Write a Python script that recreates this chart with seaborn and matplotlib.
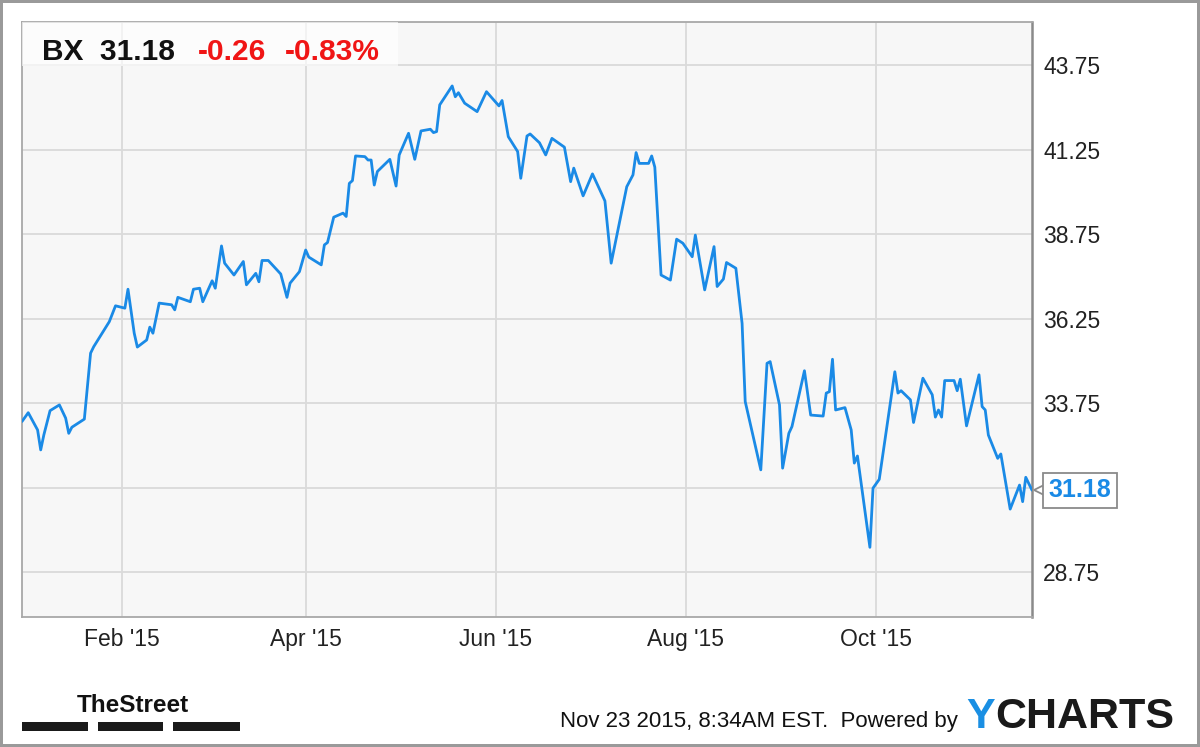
import pandas as pd
import matplotlib
matplotlib.use("Agg")
import matplotlib.pyplot as plt
import matplotlib.transforms as mtransforms
from matplotlib.patches import Rectangle
import seaborn as sns


# ==========================================
# DATA
# ==========================================

trade_dates = [
    "2014-12-31", "2015-01-02", "2015-01-05", "2015-01-06", "2015-01-07",
    "2015-01-09", "2015-01-12", "2015-01-14", "2015-01-15", "2015-01-16",
    "2015-01-20", "2015-01-22", "2015-01-23", "2015-01-28", "2015-01-30",
    "2015-02-02", "2015-02-03", "2015-02-05", "2015-02-06", "2015-02-09",
    "2015-02-10", "2015-02-11", "2015-02-13", "2015-02-17", "2015-02-18",
    "2015-02-19", "2015-02-23", "2015-02-24", "2015-02-26", "2015-02-27",
    "2015-03-02", "2015-03-03", "2015-03-05", "2015-03-06", "2015-03-09",
    "2015-03-12", "2015-03-13", "2015-03-16", "2015-03-17", "2015-03-18",
    "2015-03-20", "2015-03-24", "2015-03-26", "2015-03-27", "2015-03-30",
    "2015-04-01", "2015-04-02", "2015-04-06", "2015-04-07", "2015-04-08",
    "2015-04-10", "2015-04-13", "2015-04-14", "2015-04-15", "2015-04-16",
    "2015-04-17", "2015-04-20", "2015-04-21", "2015-04-22", "2015-04-23",
    "2015-04-24", "2015-04-28", "2015-04-30",
    "2015-05-01", "2015-05-04", "2015-05-06", "2015-05-08", "2015-05-11",
    "2015-05-12", "2015-05-13", "2015-05-14", "2015-05-18", "2015-05-19",
    "2015-05-20", "2015-05-22", "2015-05-26", "2015-05-29",
    "2015-06-02", "2015-06-03", "2015-06-05", "2015-06-08", "2015-06-09",
    "2015-06-11", "2015-06-12", "2015-06-15", "2015-06-17", "2015-06-19",
    "2015-06-23", "2015-06-25", "2015-06-26", "2015-06-29",
    "2015-07-02", "2015-07-06", "2015-07-08", "2015-07-13", "2015-07-15",
    "2015-07-16", "2015-07-17", "2015-07-20", "2015-07-21", "2015-07-22",
    "2015-07-24", "2015-07-27", "2015-07-29", "2015-07-31",
    "2015-08-03", "2015-08-04", "2015-08-07", "2015-08-10", "2015-08-11",
    "2015-08-13", "2015-08-14", "2015-08-17", "2015-08-19", "2015-08-20",
    "2015-08-25", "2015-08-27", "2015-08-28", "2015-08-31",
    "2015-09-01", "2015-09-03", "2015-09-04", "2015-09-08", "2015-09-10",
    "2015-09-14", "2015-09-15", "2015-09-16", "2015-09-17", "2015-09-18",
    "2015-09-21", "2015-09-23", "2015-09-24", "2015-09-25", "2015-09-29",
    "2015-09-30",
    "2015-10-02", "2015-10-05", "2015-10-07", "2015-10-08", "2015-10-09",
    "2015-10-12", "2015-10-13", "2015-10-16", "2015-10-19", "2015-10-20",
    "2015-10-21", "2015-10-22", "2015-10-23", "2015-10-26", "2015-10-27",
    "2015-10-28", "2015-10-30",
    "2015-11-03", "2015-11-04", "2015-11-05", "2015-11-06", "2015-11-09",
    "2015-11-10", "2015-11-13", "2015-11-16", "2015-11-17", "2015-11-18",
    "2015-11-20",
]

close_prices = [
    33.21, 33.47, 32.96, 32.37, 32.81,
    33.53, 33.70, 33.31, 32.86, 33.04,
    33.28, 35.23, 35.42, 36.16, 36.63,
    36.56, 37.12, 35.82, 35.41, 35.62,
    36.00, 35.82, 36.71, 36.66, 36.51,
    36.88, 36.75, 37.12, 37.15, 36.75,
    37.37, 37.15, 38.40, 37.89, 37.54,
    37.94, 37.25, 37.59, 37.34, 37.97,
    37.97, 37.57, 36.88, 37.30, 37.64,
    38.28, 38.07, 37.84, 38.43, 38.50,
    39.25, 39.37, 39.27, 40.25, 40.33,
    41.06, 41.04, 40.94, 40.94, 40.20,
    40.60, 40.96, 40.17,
    41.09, 41.73, 40.96, 41.80, 41.85,
    41.75, 41.78, 42.57, 43.13, 42.81,
    42.93, 42.62, 42.37, 42.96,
    42.54, 42.70, 41.63, 41.19, 40.40,
    41.65, 41.71, 41.45, 41.09, 41.58,
    41.32, 40.30, 40.70, 39.88,
    40.53, 39.73, 37.89, 40.15, 40.50,
    41.16, 40.84, 40.84, 41.06, 40.73,
    37.54, 37.39, 38.60, 38.48,
    38.08, 38.72, 37.10, 38.38, 37.20,
    37.42, 37.91, 37.74, 36.11, 33.80,
    31.78, 34.93, 34.98, 33.70,
    31.83, 32.86, 33.06, 34.71, 33.40,
    33.37, 34.05, 34.09, 35.05, 33.55,
    33.62, 32.96, 31.98, 32.19, 29.49,
    31.24,
    31.50, 33.40, 34.68, 34.05, 34.12,
    33.85, 33.18, 34.49, 34.00, 33.34,
    33.55, 33.34, 34.42, 34.42, 34.12,
    34.46, 33.08,
    34.59, 33.65, 33.55, 32.81, 32.12,
    32.25, 30.62, 31.33, 30.84, 31.56,
    31.18,
]

tick_dates = ["2015-02-01", "2015-04-01", "2015-06-01", "2015-08-01", "2015-10-01"]
tick_labels = ["Feb '15", "Apr '15", "Jun '15", "Aug '15", "Oct '15"]
price_ticks = [28.75, 31.25, 33.75, 36.25, 38.75, 41.25, 43.75]

ticker = "BX"
last_price = 31.18
change_abs = "-0.26"
change_pct = "-0.83%"
stamp_text = "Nov 23 2015, 8:34AM EST.  Powered by"


# ==========================================
# STYLE
# ==========================================

line_blue = "#1a8ae6"
loss_red = "#f01515"

sns.set_theme(
    style="whitegrid",
    rc={
        "axes.facecolor": "#f7f7f7",
        "grid.color": "#dadada",
        "grid.linewidth": 1.3,
    }
)

plt.rcParams["font.family"] = ["Liberation Sans", "DejaVu Sans"]


# ==========================================
# FIGURE
# ==========================================

frame = pd.DataFrame({
    "date": pd.to_datetime(trade_dates),
    "close": close_prices,
})

fig = plt.figure(figsize=(12, 7.47), dpi=100)
fig.patch.set_facecolor("white")
fig.patch.set_edgecolor("#9a9a9a")
fig.patch.set_linewidth(3)

ax = fig.add_axes([22 / 1200, 1 - 617 / 747, 1010 / 1200, 595 / 747])

sns.lineplot(
    data=frame,
    x="date",
    y="close",
    ax=ax,
    color=line_blue,
    linewidth=2.0,
    zorder=3
)

ax.set_xlim(frame["date"].iloc[0], frame["date"].iloc[-1])
ax.set_ylim(27.43, 45.02)

ax.set_xticks(pd.to_datetime(tick_dates))
ax.set_xticklabels(tick_labels)

# the last-price tag covers the 31.25 label in the reference
ax.yaxis.tick_right()
ax.set_yticks(price_ticks)
ax.set_yticklabels(
    ["" if abs(v - last_price) < 0.5 else f"{v:.2f}" for v in price_ticks]
)

ax.tick_params(axis="x", length=0, pad=8, labelsize=16.5, colors="#222222")
ax.tick_params(axis="y", length=0, pad=8, labelsize=16.5, colors="#222222")

ax.set_xlabel("")
ax.set_ylabel("")

ax.grid(True, color="#dadada", linewidth=1.3)

for side in ["top", "left", "bottom"]:
    ax.spines[side].set_color("#a8a8a8")
    ax.spines[side].set_linewidth(1.3)

ax.spines["right"].set_color("#8a8a8a")
ax.spines["right"].set_linewidth(1.8)


# ------------------------------------------
# HEADER BOX
# ------------------------------------------

ax.add_patch(Rectangle(
    (0, (617 - 66) / 595), 376 / 1010, 1 - (617 - 66) / 595,
    transform=ax.transAxes,
    facecolor="white",
    alpha=0.65,
    edgecolor="none",
    zorder=4
))

header_y = (617 - 60) / 595

ax.text(20 / 1010, header_y, f"{ticker}  {last_price:.2f}",
        transform=ax.transAxes, fontsize=21.5, fontweight="bold",
        color="#111111", va="baseline", ha="left", zorder=5)

ax.text(176 / 1010, header_y, change_abs,
        transform=ax.transAxes, fontsize=21.5, fontweight="bold",
        color=loss_red, va="baseline", ha="left", zorder=5)

ax.text(263 / 1010, header_y, change_pct,
        transform=ax.transAxes, fontsize=21.5, fontweight="bold",
        color=loss_red, va="baseline", ha="left", zorder=5)


# ------------------------------------------
# LAST PRICE TAG
# ------------------------------------------

tag_shift = ax.transData + mtransforms.ScaledTranslation(
    8 / 100, 0, fig.dpi_scale_trans
)

ax.plot(
    [frame["date"].iloc[-1]], [last_price],
    marker="<", markersize=9,
    markerfacecolor="white", markeredgecolor="#8a8a8a",
    markeredgewidth=1.3, transform=tag_shift,
    clip_on=False, zorder=6
)

ax.annotate(
    f"{last_price:.2f}",
    xy=(frame["date"].iloc[-1], last_price),
    xytext=(12, 0),
    textcoords="offset points",
    ha="left", va="center",
    fontsize=18, fontweight="bold", color=line_blue,
    bbox=dict(boxstyle="square,pad=0.22", facecolor="white",
              edgecolor="#8a8a8a", linewidth=1.3),
    annotation_clip=False,
    zorder=7
)


# ------------------------------------------
# FOOTER
# ------------------------------------------

fig.text(133 / 1200, 1 - 712 / 747, "TheStreet",
         fontsize=17.5, fontweight="bold",
         color="#111111", ha="center", va="baseline")

for bar_left, bar_right in [(22, 88), (98, 163), (173, 240)]:
    fig.patches.append(Rectangle(
        (bar_left / 1200, 1 - 731 / 747),
        (bar_right - bar_left) / 1200, 9 / 747,
        transform=fig.transFigure, figure=fig,
        facecolor="#1a1a1a", edgecolor="none"
    ))

fig.text(958 / 1200, 1 - 727 / 747, stamp_text,
         fontsize=16, color="#111111",
         ha="right", va="baseline")

fig.text(966 / 1200, 1 - 728 / 747, "Y",
         fontsize=31, fontweight="bold", color="#1a8fe3",
         ha="left", va="baseline")

fig.text(995 / 1200, 1 - 728 / 747, "CHARTS",
         fontsize=31, fontweight="bold", color="#1a1a1a",
         ha="left", va="baseline")

fig.savefig("out.png", dpi=100, facecolor=fig.get_facecolor(),
            edgecolor=fig.get_edgecolor())
